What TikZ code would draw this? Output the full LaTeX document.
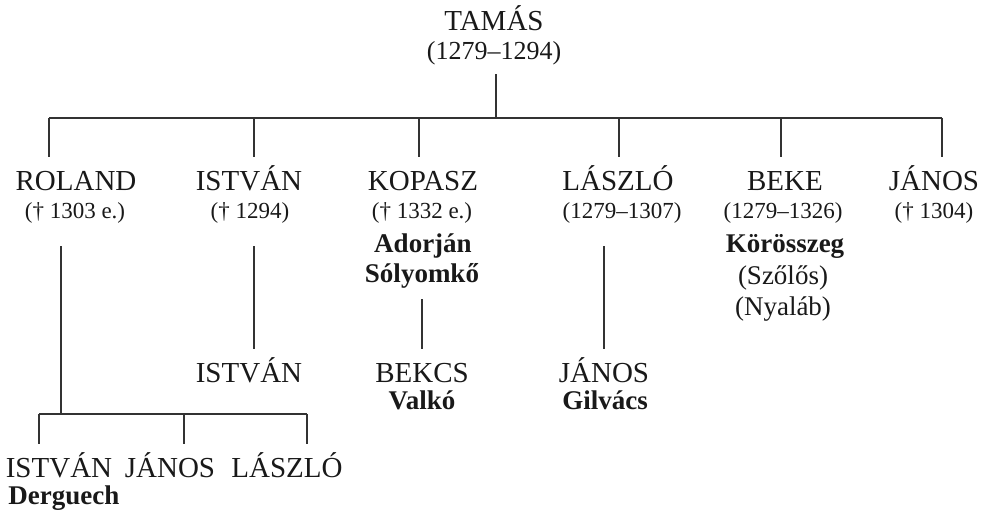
\documentclass[tikz,border=0pt]{standalone}
\usepackage{fontspec}
\setmainfont{Liberation Serif}
\tikzset{
  nm/.style={font=\fontsize{14.5bp}{16bp}\selectfont, text=black!90, anchor=base,
    inner xsep=0pt, inner ysep=6bp, text height=11bp, text depth=3bp},
  dt/.style={font=\fontsize{11.5bp}{14bp}\selectfont, text=black!90, anchor=base,
    inner xsep=0pt, inner ysep=4bp, text height=9bp, text depth=3bp},
  pl/.style={font=\fontsize{13.5bp}{16bp}\selectfont, text=black!90, anchor=base,
    inner xsep=0pt, inner ysep=4bp, text height=10bp, text depth=3bp},
  bd/.style={font=\bfseries\fontsize{13.5bp}{16bp}\selectfont, text=black!90, anchor=base,
    inner xsep=0pt, inner ysep=5bp, text height=10bp, text depth=3bp},
  ln/.style={line width=0.7bp, black!80},
  gap/.style={shorten <=6.5bp},
}
\begin{document}
\begin{tikzpicture}[x=0.5bp, y=-0.5bp]
  \useasboundingbox (0,0) rectangle (989,522);

  % Tamás
  \node[nm] (tamas) at (494,31) {TAMÁS};
  \node[dt, font=\fontsize{13bp}{15bp}\selectfont] (tamasd) at (494,60) {(1279–1294)};

  % sons
  \node[nm] (rol) at (76,191) {ROLAND};
  \node[nm] (ist) at (249,191) {ISTVÁN};
  \node[nm] (kop) at (423,191) {KOPASZ};
  \node[nm] (las) at (618,191) {LÁSZLÓ};
  \node[nm] (bek) at (785,191) {BEKE};
  \node[nm] (jan) at (934,191) {JÁNOS};

  \node[dt] (rold) at (75,219) {(† 1303 e.)};
  \node[dt] (istd) at (250,219) {(† 1294)};
  \node[dt] (kopd) at (422,219) {(† 1332 e.)};
  \node[dt] (lasd) at (622,219) {(1279–1307)};
  \node[dt] (bekd) at (783,219) {(1279–1326)};
  \node[dt] (jand) at (934,219) {(† 1304)};

  \node[bd] (ador) at (423,253) {Adorján};
  \node[bd] (soly) at (422,283) {Sólyomkő};
  \node[bd] (koro) at (785,253) {Körösszeg};
  \node[pl] (szol) at (783,285) {(Szőlős)};
  \node[pl] (nyal) at (783,316) {(Nyaláb)};

  % grandsons
  \node[nm] (ist2) at (249,383) {ISTVÁN};
  \node[nm] (bekcs) at (422,383) {BEKCS};
  \node[bd] (valko) at (422,410) {Valkó};
  \node[nm] (jan2) at (604,383) {JÁNOS};
  \node[bd] (gilv) at (605,410) {Gilvács};

  \node[nm] (ist3) at (59,478) {ISTVÁN};
  \node[nm] (jan3) at (170,478) {JÁNOS};
  \node[nm] (las3) at (287,478) {LÁSZLÓ};
  \node[bd, anchor=base west] (derg) at (8,505) {Derguech};

  % lines
  \coordinate (bus) at (496,118);
  \draw[ln] (tamasd.south -| bus) -- (bus);
  \foreach \n/\x in {rol/49, ist/254, kop/419, las/619, bek/781, jan/942}
    \draw[ln] (\x,118) coordinate (top-\n) -- (\x,118 |- \n.north);
  \draw[ln] (top-rol) -- (top-jan);

  \coordinate (rbus) at (61,414);
  \draw[ln, gap] (rold.south -| rbus) -- (rbus);
  \foreach \n/\x in {ist3/39, jan3/184, las3/307}
    \draw[ln] (\x,414) coordinate (rb-\n) -- (\x,414 |- \n.north);
  \draw[ln] (rb-ist3) -- (rb-las3);

  \draw[ln, gap] (istd.south -| top-ist) -- (ist2.north -| top-ist);
  \draw[ln] (soly.south) -- (bekcs.north);
  \draw[ln, gap] (lasd.south -| jan2) -- (jan2.north);
\end{tikzpicture}
\end{document}
